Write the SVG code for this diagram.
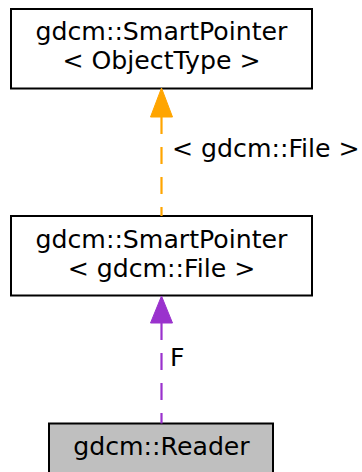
<svg xmlns="http://www.w3.org/2000/svg" width="362" height="472" viewBox="0 0 362 472">
<style>
text{font-family:"DejaVu Sans",sans-serif;font-size:25.2px;fill:#000}
.box{fill:#fff;stroke:#000;stroke-width:2}
.c{text-anchor:middle}
.edge{fill:none;stroke-width:2.2;stroke-dasharray:17,13}
</style>
<rect width="362" height="472" fill="#fff"/>
<g id="node1">
<rect class="box" x="11" y="9" width="301" height="79.5"/>
<text class="c" x="161.5" y="40">gdcm::SmartPointer</text>
<text class="c" x="161.5" y="69">&lt; ObjectType &gt;</text>
</g>
<g id="node2">
<rect class="box" x="11" y="216" width="301" height="79.5"/>
<text class="c" x="161.5" y="248">gdcm::SmartPointer</text>
<text class="c" x="161.5" y="277">&lt; gdcm::File &gt;</text>
</g>
<g id="node3">
<rect class="box" x="49" y="423.5" width="224" height="60" style="fill:#bfbfbf"/>
<text class="c" x="161.5" y="455">gdcm::Reader</text>
</g>
<g id="edges">
<line class="edge" x1="161.5" y1="117" x2="161.5" y2="216" stroke="#ffa500"/>
<polygon points="161.5,88 150.5,117 172.5,117" fill="#ffa500" stroke="#ffa500"/>
<text x="172" y="157">&lt; gdcm::File &gt;</text>
<line class="edge" x1="161.5" y1="323" x2="161.5" y2="423.5" stroke="#9a32cd"/>
<polygon points="161.5,296 150.5,323 172.5,323" fill="#9a32cd" stroke="#9a32cd"/>
<text x="170" y="366">F</text>
</g>
</svg>
